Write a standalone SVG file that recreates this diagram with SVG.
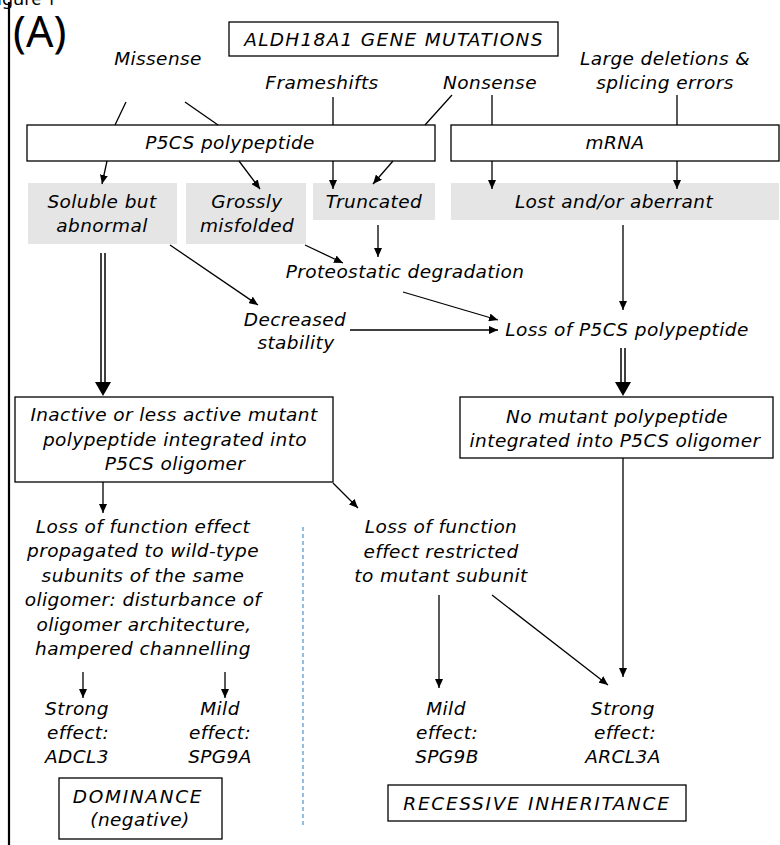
<svg xmlns="http://www.w3.org/2000/svg" width="780" height="845" viewBox="0 0 780 845">
<defs>
<style>
.t{font-family:"DejaVu Sans","Noto Sans",sans-serif;font-style:italic;font-size:18.5px;letter-spacing:0.4px;text-anchor:middle;fill:#000}
.caps{letter-spacing:1.7px}
.box{fill:#fff;stroke:#000;stroke-width:1.3}
.grey{fill:#e5e5e5;stroke:none}
.c{stroke:#000;stroke-width:1.3;fill:none}
.a{stroke:#000;stroke-width:1.3;fill:none;marker-end:url(#ah)}
.dl{stroke:#000;stroke-width:1.5;fill:none}
</style>
<marker id="ah" markerUnits="userSpaceOnUse" markerWidth="9" markerHeight="8" refX="9" refY="4" orient="auto">
<path d="M0,0 L9,4 L0,8 z" fill="#000"/>
</marker>
</defs>
<rect width="780" height="845" fill="#fff"/>
<text x="-12" y="5" font-family="Noto Sans, sans-serif" font-size="18">Figure 1</text>
<line x1="9" y1="2" x2="9" y2="845" stroke="#000" stroke-width="2.2"/>
<text x="13" y="47" font-family="Noto Sans, sans-serif" font-size="43">(A)</text>

<g id="title"><rect class="box" x="229" y="22" width="329" height="34"/><text class="t caps" x="394" y="46" style="letter-spacing:1.3px">ALDH18A1 GENE MUTATIONS</text></g>
<g id="missense"><text class="t" x="158" y="65">Missense</text></g>
<g id="frameshifts"><text class="t" x="322" y="89">Frameshifts</text></g>
<g id="nonsense"><text class="t" x="490" y="89">Nonsense</text></g>
<g id="largedel"><text class="t" x="665" y="65">Large deletions &amp;</text><text class="t" x="665" y="89">splicing errors</text></g>
<g id="p5cs"><rect class="box" x="27" y="125" width="408" height="36"/><text class="t" x="230" y="149">P5CS polypeptide</text></g>
<g id="mrna"><rect class="box" x="451" y="125" width="328" height="36"/><text class="t" x="615" y="149">mRNA</text></g>
<g id="soluble"><rect class="grey" x="28" y="183" width="149" height="61"/><text class="t" x="102" y="208">Soluble but</text><text class="t" x="102" y="232">abnormal</text></g>
<g id="grossly"><rect class="grey" x="186" y="183" width="120" height="61"/><text class="t" x="247" y="208">Grossly</text><text class="t" x="247" y="232">misfolded</text></g>
<g id="truncated"><rect class="grey" x="313" y="183" width="122" height="37"/><text class="t" x="374" y="208">Truncated</text></g>
<g id="lost"><rect class="grey" x="451" y="183" width="328" height="37"/><text class="t" x="614" y="208">Lost and/or aberrant</text></g>
<g id="proteo"><text class="t" x="405" y="278">Proteostatic degradation</text></g>
<g id="decreased"><text class="t" x="295" y="326">Decreased</text><text class="t" x="296" y="349">stability</text></g>
<g id="lossp5cs"><text class="t" x="627" y="336">Loss of P5CS polypeptide</text></g>
<g id="inactive"><rect class="box" x="15" y="397" width="318" height="85"/><text class="t" x="174" y="421">Inactive or less active mutant</text><text class="t" x="175" y="446">polypeptide integrated into</text><text class="t" x="175" y="470">P5CS oligomer</text></g>
<g id="nomutant"><rect class="box" x="460" y="397" width="313" height="61"/><text class="t" x="617" y="423">No mutant polypeptide</text><text class="t" x="615" y="447">integrated into P5CS oligomer</text></g>
<g id="lofprop"><text class="t" x="143" y="533">Loss of function effect</text><text class="t" x="143" y="557">propagated to wild-type</text><text class="t" x="143" y="582">subunits of the same</text><text class="t" x="143" y="606">oligomer: disturbance of</text><text class="t" x="144" y="631">oligomer architecture,</text><text class="t" x="143" y="655">hampered channelling</text></g>
<g id="lofrestr"><text class="t" x="441" y="533">Loss of function</text><text class="t" x="441" y="558">effect restricted</text><text class="t" x="441" y="582">to mutant subunit</text></g>
<g id="adcl3"><text class="t" x="77" y="715">Strong</text><text class="t" x="78" y="739">effect:</text><text class="t" x="77" y="763">ADCL3</text></g>
<g id="spg9a"><text class="t" x="220" y="715">Mild</text><text class="t" x="220" y="739">effect:</text><text class="t" x="220" y="763">SPG9A</text></g>
<g id="spg9b"><text class="t" x="446" y="715">Mild</text><text class="t" x="447" y="739">effect:</text><text class="t" x="447" y="763">SPG9B</text></g>
<g id="arcl3a"><text class="t" x="623" y="715">Strong</text><text class="t" x="625" y="739">effect:</text><text class="t" x="623" y="763">ARCL3A</text></g>
<g id="dominance"><rect class="box" x="59" y="778" width="163" height="61"/><text class="t caps" x="138" y="803">DOMINANCE</text><text class="t" x="140" y="826">(negative)</text></g>
<g id="recessive"><rect class="box" x="388" y="785" width="298" height="36"/><text class="t caps" x="537" y="810">RECESSIVE INHERITANCE</text></g>

<g id="connectors">
<line class="c" x1="126" y1="102" x2="115" y2="125"/>
<line class="c" x1="185" y1="102" x2="218" y2="125"/>
<line class="c" x1="333" y1="97" x2="333" y2="125"/>
<line class="c" x1="452" y1="95" x2="425" y2="125"/>
<line class="c" x1="492" y1="95" x2="492" y2="125"/>
<line class="c" x1="677" y1="95" x2="677" y2="125"/>
<line class="a" x1="107" y1="161" x2="102" y2="184"/>
<line class="a" x1="239" y1="161" x2="260" y2="189"/>
<line class="a" x1="333" y1="161" x2="333" y2="189"/>
<line class="a" x1="393" y1="161" x2="373" y2="184"/>
<line class="a" x1="492" y1="161" x2="492" y2="189"/>
<line class="a" x1="677" y1="161" x2="677" y2="189"/>
<line class="a" x1="378" y1="225" x2="378" y2="257"/>
<line class="a" x1="305" y1="245" x2="343" y2="263"/>
<line class="a" x1="170" y1="245" x2="258" y2="305"/>
<line class="a" x1="350" y1="330" x2="498" y2="330"/>
<line class="a" x1="403" y1="292" x2="498" y2="320"/>
<line class="a" x1="623" y1="225" x2="623" y2="310"/>
<line class="dl" x1="101" y1="253" x2="101" y2="384"/>
<line class="dl" x1="105" y1="253" x2="105" y2="384"/>
<path d="M95,382 L111,382 L103,396 z" fill="#000"/>
<line class="dl" x1="621" y1="348" x2="621" y2="384"/>
<line class="dl" x1="625" y1="348" x2="625" y2="384"/>
<path d="M615,382 L631,382 L623,396 z" fill="#000"/>
<line class="a" x1="103" y1="482" x2="103" y2="513"/>
<line class="a" x1="333" y1="483" x2="358" y2="508"/>
<line class="a" x1="623" y1="458" x2="623" y2="677"/>
<line class="a" x1="83" y1="672" x2="83" y2="698"/>
<line class="a" x1="225" y1="672" x2="225" y2="698"/>
<line class="a" x1="439" y1="595" x2="439" y2="688"/>
<line class="a" x1="492" y1="595" x2="608" y2="685"/>
<line x1="303" y1="527" x2="303" y2="827" stroke="#5b9bd5" stroke-width="1.3" stroke-dasharray="4 3"/>
</g>
</svg>
